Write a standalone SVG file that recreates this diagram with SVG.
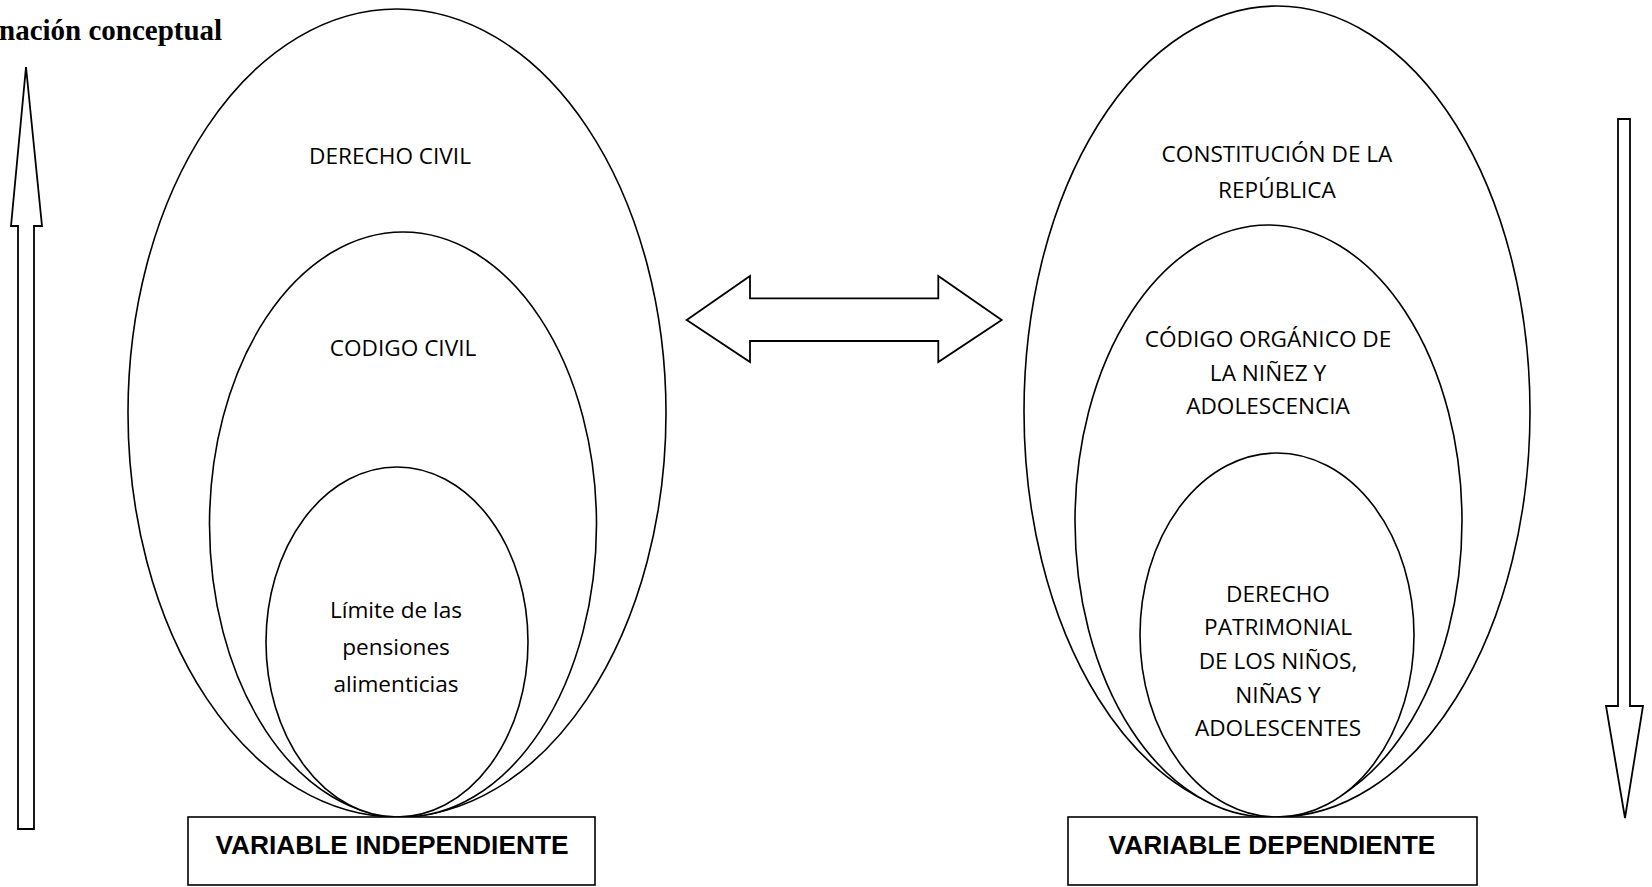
<svg xmlns="http://www.w3.org/2000/svg" width="1652" height="887" viewBox="0 0 1652 887">
<style>
.sh{fill:#fff;stroke:#000;stroke-width:1.6}
.ar{fill:#fff;stroke:#000;stroke-width:1.8;stroke-linejoin:miter}
.t{font-family:"Open Sans","Liberation Sans",sans-serif;font-size:22.6px;fill:#000;text-anchor:middle}
.b{font-family:"Liberation Sans",Arial,sans-serif;font-size:26.3px;font-weight:bold;fill:#000;text-anchor:middle}
.h{font-family:"Liberation Serif","Times New Roman",serif;font-size:29px;font-weight:bold;fill:#000}
</style>
<rect width="1652" height="887" fill="#fff"/>
<text class="h" x="-1" y="40">nación conceptual</text>
<g id="connectors">
<path class="ar" d="M26,67 L42,226 L34,226 L34,829 L18,829 L18,226 L11,226 Z"/>
<path class="ar" d="M686.7,320 L750,276 L750,298.3 L938.3,298.3 L938.3,276 L1001.7,320 L938.3,362 L938.3,341 L750,341 L750,362 Z"/>
<path class="ar" d="M1618,119 L1630,119 L1630,706 L1643,706 L1625,818 L1606,706 L1618,706 Z"/>
</g>
<g id="left-outer">
<ellipse class="sh" cx="397" cy="413" rx="269" ry="404"/>
<text class="t" x="390" y="164">DERECHO CIVIL</text>
</g>
<g id="left-middle">
<ellipse class="sh" cx="403" cy="524.5" rx="193.5" ry="292.5"/>
<text class="t" x="403" y="356">CODIGO CIVIL</text>
</g>
<g id="left-inner">
<ellipse class="sh" cx="397" cy="642" rx="131" ry="175"/>
<text class="t" x="396" y="618">Límite de las</text>
<text class="t" x="396" y="655">pensiones</text>
<text class="t" x="396" y="692">alimenticias</text>
</g>
<g id="left-box">
<rect class="sh" x="188" y="817" width="407" height="68"/>
<text class="b" x="392" y="854">VARIABLE INDEPENDIENTE</text>
</g>
<g id="right-outer">
<ellipse class="sh" cx="1277" cy="411.5" rx="253" ry="405.5"/>
<text class="t" x="1277" y="162">CONSTITUCIÓN DE LA</text>
<text class="t" x="1277" y="198">REPÚBLICA</text>
</g>
<g id="right-middle">
<ellipse class="sh" cx="1268.5" cy="521" rx="193.5" ry="296"/>
<text class="t" x="1268" y="347">CÓDIGO ORGÁNICO DE</text>
<text class="t" x="1268" y="381">LA NIÑEZ Y</text>
<text class="t" x="1268" y="414">ADOLESCENCIA</text>
</g>
<g id="right-inner">
<ellipse class="sh" cx="1277" cy="635" rx="137" ry="182"/>
<text class="t" x="1278" y="602">DERECHO</text>
<text class="t" x="1278" y="635">PATRIMONIAL</text>
<text class="t" x="1278" y="669">DE LOS NIÑOS,</text>
<text class="t" x="1278" y="703">NIÑAS Y</text>
<text class="t" x="1278" y="736">ADOLESCENTES</text>
</g>
<g id="right-box">
<rect class="sh" x="1068" y="817" width="409" height="68"/>
<text class="b" x="1272" y="854">VARIABLE DEPENDIENTE</text>
</g>
</svg>
